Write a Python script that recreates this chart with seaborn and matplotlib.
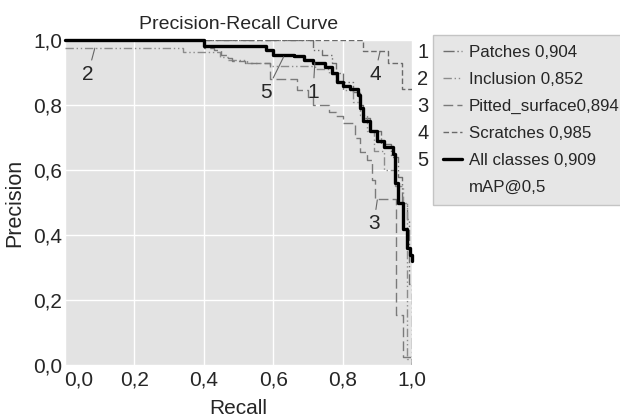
import matplotlib
matplotlib.use("Agg")
import matplotlib.pyplot as plt
from matplotlib.lines import Line2D
from matplotlib.transforms import ScaledTranslation
import seaborn as sns

# step points (recall, precision)
recall_patches = [0.0, 0.715, 0.74, 0.77, 0.78, 0.80, 0.83, 0.85, 0.86, 0.88, 0.91, 0.94, 0.96, 0.97, 0.985, 0.99, 1.0]
prec_patches = [1.0, 0.97, 0.955, 0.93, 0.90, 0.87, 0.84, 0.80, 0.76, 0.72, 0.68, 0.64, 0.58, 0.50, 0.45, 0.25, 0.0]

recall_incl = [0.0, 0.34, 0.447, 0.47, 0.525, 0.59, 0.72, 0.76, 0.78, 0.80, 0.83, 0.85, 0.87, 0.89, 0.92, 0.95, 0.975, 0.985, 1.0]
prec_incl = [0.975, 0.964, 0.949, 0.94, 0.928, 0.92, 0.91, 0.895, 0.87, 0.845, 0.81, 0.77, 0.72, 0.66, 0.60, 0.55, 0.50, 0.02, 0.0]

recall_pitted = [0.0, 0.40, 0.43, 0.45, 0.47, 0.48, 0.52, 0.59, 0.67, 0.70, 0.715, 0.76, 0.78, 0.80, 0.835, 0.85, 0.87, 0.885, 0.893, 0.955, 0.975, 1.0]
prec_pitted = [1.0, 0.975, 0.97, 0.955, 0.945, 0.935, 0.93, 0.88, 0.846, 0.826, 0.80, 0.78, 0.765, 0.745, 0.70, 0.655, 0.63, 0.57, 0.51, 0.155, 0.025, 0.0]

recall_scratch = [0.0, 0.86, 0.93, 0.97, 1.0]
prec_scratch = [1.0, 0.965, 0.93, 0.85, 0.85]

recall_all = [0.0, 0.40, 0.58, 0.60, 0.66, 0.69, 0.715, 0.75, 0.77, 0.785, 0.80, 0.82, 0.845, 0.85, 0.86, 0.88, 0.90, 0.92, 0.945, 0.95, 0.96, 0.975, 0.985, 0.995, 1.0]
prec_all = [1.0, 0.982, 0.97, 0.955, 0.95, 0.94, 0.93, 0.918, 0.90, 0.87, 0.86, 0.85, 0.83, 0.79, 0.75, 0.72, 0.69, 0.67, 0.65, 0.56, 0.50, 0.42, 0.36, 0.34, 0.32]

class_labels = ["Patches 0,904", "Inclusion 0,852", "Pitted_surface0,894", "Scratches 0,985", "All classes 0,909"]
map_label = "mAP@0,5"
tick_vals = [0.0, 0.2, 0.4, 0.6, 0.8, 1.0]
tick_labels = ["0,0", "0,2", "0,4", "0,6", "0,8", "1,0"]

# curve number callouts: (number, text pos, point on curve)
callouts = [("2", (0.066, 0.895), (0.086, 0.975)),
            ("5", (0.58, 0.84), (0.63, 0.948)),
            ("1", (0.715, 0.84), (0.72, 0.93)),
            ("4", (0.893, 0.895), (0.908, 0.965)),
            ("3", (0.89, 0.435), (0.90, 0.508))]

sns.set_theme(style="darkgrid")
plt.rcParams["font.family"] = ["Liberation Sans", "DejaVu Sans"]
plt.rcParams["axes.facecolor"] = "#e3e3e3"
plt.rcParams["grid.color"] = "white"

fig = plt.figure(figsize=(6.2, 4.18), dpi=100)
ax = fig.add_axes([65 / 620, 1 - 365 / 418, 347 / 620, 325 / 418])

series = [
    (recall_patches, prec_patches, "#6e6e6e", 1.0, (8, 2, 1, 2, 1, 2)),
    (recall_incl, prec_incl, "#8c8c8c", 1.0, (6, 2, 1, 2, 1, 2)),
    (recall_pitted, prec_pitted, "#7a7a7a", 1.0, (7, 3)),
    (recall_scratch, prec_scratch, "#6a6a6a", 1.0, (4, 2)),
    (recall_all, prec_all, "black", 2.4, None),
]
for (x, y, col, lw, dash), lab in zip(series, class_labels):
    sns.lineplot(x=x, y=y, ax=ax, color=col, linewidth=lw, estimator=None,
                 sort=False, drawstyle="steps-post", label=lab)
    line = ax.get_lines()[-1]
    if dash is not None:
        line.set_dashes(dash)
    else:
        line.set_clip_on(False)

for num, txt_xy, pt_xy in callouts:
    ax.annotate(num, xy=pt_xy, xytext=txt_xy, fontsize=15, ha="center", va="center",
                arrowprops=dict(arrowstyle="-", color="#666666", lw=0.8, shrinkA=1, shrinkB=0))

ax.set_xlim(0, 1)
ax.set_ylim(0, 1)
ax.set_xticks(tick_vals)
ax.set_xticklabels(tick_labels)
ax.set_yticks(tick_vals)
ax.set_yticklabels(tick_labels)
ax.tick_params(axis="both", labelsize=15, length=0)
ax.tick_params(axis="x", pad=4)
ax.tick_params(axis="y", pad=2)
for s in ax.spines.values():
    s.set_visible(False)
ax.grid(True, color="white", linewidth=1.0)

first = ax.get_xticklabels()[0]
first.set_transform(first.get_transform() + ScaledTranslation(10 / 72, 0, fig.dpi_scale_trans))

ax.set_title("Precision-Recall Curve", fontsize=14, pad=8)
ax.set_xlabel("Recall", fontsize=15, labelpad=7)
ax.set_ylabel("Precision", fontsize=15.5, labelpad=6)

handles, labels = ax.get_legend_handles_labels()
handles.append(Line2D([], [], color="none"))
labels.append(map_label)
leg = ax.legend(handles, labels, loc="upper left", bbox_to_anchor=(433 / 620, 1 - 35 / 418),
                bbox_transform=fig.transFigure, fontsize=12.2, frameon=True, fancybox=False,
                facecolor="#e6e6e6", edgecolor="#c4c4c4", framealpha=1,
                handlelength=1.1, handletextpad=0.4, labelspacing=0.7, borderpad=0.6,
                borderaxespad=0)
leg.get_frame().set_linewidth(1.0)

fig.canvas.draw()
inv = fig.transFigure.inverted()
for i, t in enumerate(leg.get_texts()[:5]):
    bb = t.get_window_extent()
    yc = inv.transform((0, (bb.y0 + bb.y1) / 2))[1]
    fig.text(423 / 620, yc, str(i + 1), fontsize=14.5, ha="center", va="center")

fig.savefig("out.png", dpi=100)
